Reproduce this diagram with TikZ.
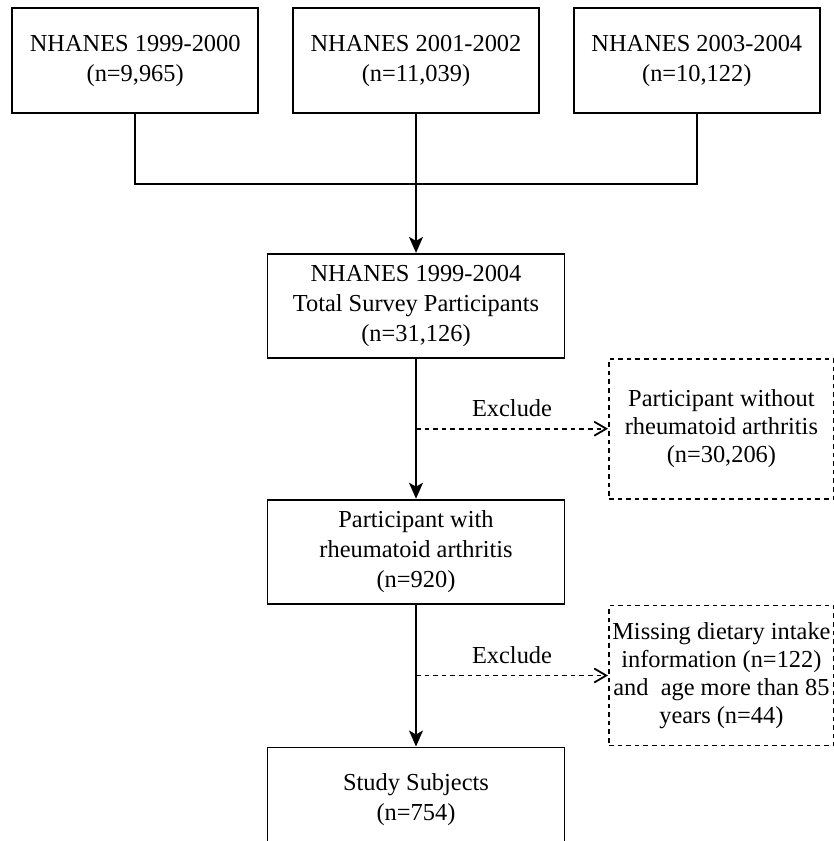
\documentclass[tikz,border=0pt]{standalone}
\usepackage{fontspec}
\setmainfont{Liberation Serif}
\usetikzlibrary{arrows.meta, positioning, calc}

\begin{document}
\begin{tikzpicture}[
  x=0.5pt,y=-0.5pt,
  font=\fontsize{12.2}{15}\selectfont,
  yearbox/.style={draw,line width=0.9pt,minimum width=123pt,minimum height=52.5pt,
                  align=center,inner sep=1pt},
  mainbox/.style={yearbox,minimum width=148.5pt,minimum height=52pt},
  exbox/.style={draw,line width=0.9pt,dash pattern=on 2.3pt off 2pt,
                minimum width=112.5pt,minimum height=70pt,align=center,inner sep=1pt,
                font=\fontsize{12.2}{14}\selectfont},
  arr/.style={-{Stealth[length=8pt,width=7pt,inset=2pt]},line width=0.9pt},
  exarr/.style={-{Straight Barb[length=6pt,width=7pt]},line width=0.9pt,
                dash pattern=on 2.3pt off 2pt},
  lbl/.style={above=2pt}
]
  \useasboundingbox (0,0) rectangle (834,841);
  \clip (0,0) rectangle (834,841);

  \node[yearbox] (y2) at (416,60.5) {NHANES 2001-2002\\(n=11,039)};
  \node[yearbox,left=16.5pt of y2] (y1) {NHANES 1999-2000\\(n=9,965)};
  \node[yearbox,right=16.5pt of y2] (y3) {NHANES 2003-2004\\(n=10,122)};
  \node[mainbox,below=69.5pt of y2] (total) {NHANES 1999-2004\\Total Survey Participants\\(n=31,126)};
  \node[mainbox,below=70pt of total] (ra) {Participant with\\rheumatoid arthritis\\(n=920)};
  \node[mainbox,below=71pt of ra] (study) {Study Subjects\\(n=754)};

  \coordinate (ex1) at ($(total.south)!0.5!(ra.north)$);
  \coordinate (ex2) at ($(ra.south)!0.5!(study.north)$);
  \node[exbox,right=96pt of ex1] (noRA) {Participant without\\rheumatoid arthritis\\(n=30,206)};
  \node[exbox,right=96pt of ex2] (miss) {Missing dietary intake\\information (n=122)\\and\ \ age more than 85\\years (n=44)};

  \draw[line width=0.9pt] (y1.south) -- ++(0,70) -| (y3.south);
  \draw[arr] (y2) -- (total);
  \draw[arr] (total) -- (ra);
  \draw[arr] (ra) -- (study);
  \draw[exarr] (ex1) -- node[lbl]{Exclude} (noRA.west);
  \draw[exarr] (ex2) -- node[lbl]{Exclude} (miss.west);
\end{tikzpicture}
\end{document}
